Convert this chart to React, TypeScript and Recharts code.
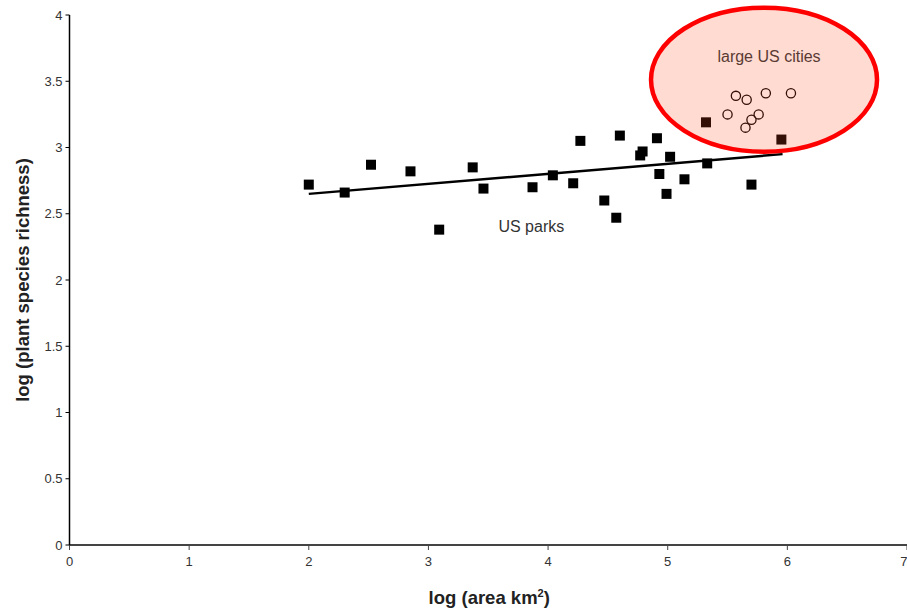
import React from "react";
import {
  ScatterChart,
  Scatter,
  XAxis,
  YAxis,
  ReferenceLine,
  ReferenceDot,
} from "recharts";

// US parks (filled squares)
const parkX = [2.0, 2.3, 2.52, 2.85, 3.09, 3.37, 3.46, 3.87, 4.04, 4.21, 4.27, 4.47, 4.57, 4.6, 4.77, 4.79, 4.91, 4.93, 4.99, 5.02, 5.14, 5.33, 5.32, 5.7, 5.95];
const parkY = [2.72, 2.66, 2.87, 2.82, 2.38, 2.85, 2.69, 2.7, 2.79, 2.73, 3.05, 2.6, 2.47, 3.09, 2.94, 2.97, 3.07, 2.8, 2.65, 2.93, 2.76, 2.88, 3.19, 2.72, 3.06];

// large US cities (open circles)
const cityX = [5.57, 5.66, 5.82, 6.03, 5.5, 5.76, 5.7, 5.65];
const cityY = [3.39, 3.36, 3.41, 3.41, 3.25, 3.25, 3.21, 3.15];

// fitted line through the parks
const fitX = [2.0, 5.96];
const fitY = [2.65, 2.95];

const xTicks = [0, 1, 2, 3, 4, 5, 6, 7];
const yTicks = [0, 0.5, 1, 1.5, 2, 2.5, 3, 3.5, 4];

const parks = parkX.map((x, i) => ({ x, y: parkY[i] }));
const cities = cityX.map((x, i) => ({ x, y: cityY[i] }));

const FONT = "'Liberation Sans', Arial, sans-serif";

const SquareDot = (props: any) => (
  <rect x={props.cx - 5} y={props.cy - 5} width={10} height={10} fill="#000" />
);

const OpenDot = (props: any) => (
  <circle cx={props.cx} cy={props.cy} r={4.6} fill="none" stroke="#000" strokeWidth={1.3} />
);

const CitiesBubble = (props: any) => (
  <g>
    <ellipse
      cx={props.cx}
      cy={props.cy}
      rx={113}
      ry={72}
      fill="#ff4a1f"
      fillOpacity={0.2}
      stroke="#ff0000"
      strokeWidth={4.5}
    />
    <text x={props.cx + 5} y={props.cy - 18} textAnchor="middle" fontSize={16} fontFamily={FONT} fill="#5a3a33">
      large US cities
    </text>
  </g>
);

const ParksText = (props: any) => (
  <text x={props.cx} y={props.cy + 6} textAnchor="middle" fontSize={16} fontFamily={FONT} fill="#333">
    US parks
  </text>
);

const xLabel = (props: any) => {
  const { x, y, width } = props.viewBox;
  return (
    <text x={x + width / 2 + 1} y={y + 59} textAnchor="middle" fontSize={18.5} fontWeight="bold" fontFamily={FONT} fill="#222">
      log (area km<tspan dy={-7} fontSize={11}>2</tspan>
      <tspan dy={7}>)</tspan>
    </text>
  );
};

const yLabel = (props: any) => {
  const { y, height } = props.viewBox;
  const cx = 29;
  const cy = y + height / 2;
  return (
    <text x={cx} y={cy} transform={`rotate(-90 ${cx} ${cy})`} textAnchor="middle" fontSize={18.5} fontWeight="bold" fontFamily={FONT} fill="#222">
      log (plant species richness)
    </text>
  );
};

export default function App() {
  return (
    <div style={{ position: "absolute", left: 0, top: 0, background: "#fff" }}>
      <ScatterChart width={907} height={612} margin={{ top: 15, right: 0, bottom: 0, left: 0 }}>
        <XAxis
          type="number"
          dataKey="x"
          domain={[0, 7]}
          ticks={xTicks}
          height={67}
          tickSize={5}
          tickMargin={7}
          axisLine={{ stroke: "#444", strokeWidth: 2 }}
          tickLine={{ stroke: "#444" }}
          tick={{ fontSize: 13, fontFamily: FONT, fill: "#333" }}
          label={xLabel}
          allowDataOverflow
        />
        <YAxis
          type="number"
          dataKey="y"
          domain={[0, 4]}
          ticks={yTicks}
          width={69.5}
          tickSize={4}
          tickMargin={3}
          axisLine={{ stroke: "#000", strokeWidth: 1.5 }}
          tickLine={{ stroke: "#000" }}
          tick={{ fontSize: 13, fontFamily: FONT, fill: "#333" }}
          label={yLabel}
        />
        <ReferenceLine
          segment={[
            { x: fitX[0], y: fitY[0] },
            { x: fitX[1], y: fitY[1] },
          ]}
          stroke="#000"
          strokeWidth={2.5}
        />
        <Scatter data={parks} shape={SquareDot} isAnimationActive={false} />
        <Scatter data={cities} shape={OpenDot} isAnimationActive={false} />
        <ReferenceDot x={3.86} y={2.41} r={0} shape={ParksText} />
        <ReferenceDot x={5.805} y={3.512} shape={CitiesBubble} zIndex={1000} />
      </ScatterChart>
    </div>
  );
}
